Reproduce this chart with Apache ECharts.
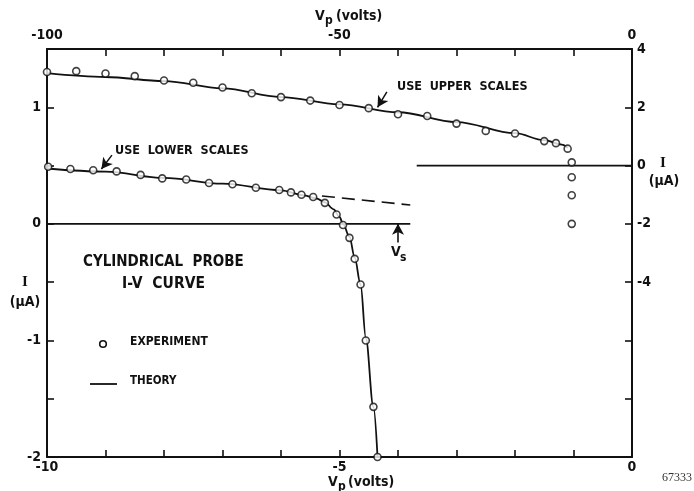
<!DOCTYPE html>
<html>
<head>
<meta charset="utf-8">
<script src="https://cdn.jsdelivr.net/npm/echarts@6/dist/echarts.min.js"></script>
<style>
  html, body { margin: 0; padding: 0; background: #fff; }
  #chart { width: 694px; height: 491px; }
</style>
</head>
<body>
<div id="chart"></div>
<script>
// Lower scales: probe voltage Vp (V, bottom axis) vs current I (µA, left axis)
const lowerExpV = [-9.98, -9.60, -9.21, -8.81, -8.40, -8.03, -7.62, -7.23, -6.83, -6.43, -6.03, -5.83,
                   -5.65, -5.45, -5.25, -5.05, -4.94, -4.83, -4.74, -4.64, -4.55, -4.42, -4.35];
const lowerExpI = [0.49, 0.47, 0.46, 0.45, 0.42, 0.39, 0.38, 0.35, 0.34, 0.31, 0.29, 0.27,
                   0.25, 0.23, 0.18, 0.08, -0.01, -0.12, -0.30, -0.52, -1.00, -1.57, -2.00];
const lowerTheoryV = [-10, -9, -8, -7, -6, -5.6, -5.4, -5.25, -5.1, -5.0, -4.94, -4.83, -4.74, -4.64, -4.55, -4.42, -4.35];
const lowerTheoryI = [0.475, 0.448, 0.394, 0.345, 0.288, 0.245, 0.218, 0.185, 0.125, 0.06, 0.0, -0.11, -0.29, -0.52, -0.98, -1.57, -2.0];
// dashed continuation of the ion-saturation branch
const lowerDashV = [-5.3, -3.79];
const lowerDashI = [0.239, 0.162];
const lowerZeroV = [-10, -3.79];
const plasmaPotential = -4.0;   // Vs

// Upper scales: Vp (V, top axis) vs I (µA, right axis)
const upperExpV = [-100, -95, -90, -85, -80, -75, -70, -65, -60, -55, -50, -45, -40, -35, -30, -25,
                   -20, -15, -13, -11, -10.3, -10.3, -10.3, -10.3];
const upperExpI = [3.21, 3.24, 3.16, 3.07, 2.92, 2.84, 2.68, 2.48, 2.35, 2.23, 2.08, 1.97, 1.76, 1.70,
                   1.44, 1.19, 1.10, 0.84, 0.77, 0.58, 0.11, -0.40, -1.02, -2.00];
const upperTheoryV = [-100, -90, -80, -70, -60, -50, -40, -30, -20, -15, -12, -11];
const upperTheoryI = [3.17, 3.04, 2.90, 2.65, 2.35, 2.10, 1.83, 1.49, 1.11, 0.87, 0.72, 0.61];
const upperZeroV = [-36.8, 0];

// Tick labels
const bottomTicks = [-10, -5, 0];
const topTicks = [-100, -50, 0];
const leftTicks = [-2, -1, 0, 1];
const rightTicks = [-4, -2, 0, 2, 4];

const pairs = (xs, ys) => xs.map((x, i) => [x, ys[i]]);
const INK = '#111111';
const FONT = 'DejaVu Sans Condensed';

const labelStyle = {
  color: INK, fontFamily: FONT, fontWeight: 'bold', fontSize: 14
};
const axisBase = {
  type: 'value',
  axisLine: { show: true, onZero: false, lineStyle: { color: INK, width: 2 } },
  axisTick: { show: true, inside: true, length: 7, lineStyle: { color: INK, width: 1.6 } },
  splitLine: { show: false },
  minorTick: { show: false }
};

const chart = echarts.init(document.getElementById('chart'), null, { renderer: 'canvas' });

const option = {
  backgroundColor: '#ffffff',
  animation: false,
  grid: { left: 47, top: 49, width: 585, height: 408, containLabel: false },
  xAxis: [
    Object.assign({}, axisBase, {
      position: 'bottom', min: -10, max: 0, interval: 1,
      axisLabel: Object.assign({}, labelStyle, {
        margin: 3,
        formatter: v => bottomTicks.includes(v) ? String(v) : ''
      })
    }),
    Object.assign({}, axisBase, {
      position: 'top', min: -100, max: 0, interval: 10,
      axisLabel: Object.assign({}, labelStyle, {
        margin: 7,
        formatter: v => topTicks.includes(v) ? String(v) : ''
      })
    })
  ],
  yAxis: [
    Object.assign({}, axisBase, {
      position: 'left', min: -2, max: 1.5, interval: 0.5,
      axisLabel: Object.assign({}, labelStyle, {
        margin: 6,
        formatter: v => leftTicks.includes(v) ? String(v) : ''
      })
    }),
    Object.assign({}, axisBase, {
      position: 'right', min: -10, max: 4, interval: 2,
      axisLabel: Object.assign({}, labelStyle, {
        margin: 5,
        formatter: v => rightTicks.includes(v) ? String(v) : ''
      })
    })
  ],
  series: [
    {
      name: 'Theory (lower)', type: 'line', xAxisIndex: 0, yAxisIndex: 0,
      data: pairs(lowerTheoryV, lowerTheoryI), smooth: 0.35, smoothMonotone: 'x',
      showSymbol: false, lineStyle: { color: INK, width: 1.8 }, z: 3,
      markLine: {
        silent: true, symbol: ['none', 'arrow'], symbolSize: [9, 11],
        lineStyle: { color: INK, width: 1.5, type: 'solid' }, label: { show: false },
        data: [[{ coord: [-8.89, 0.59] }, { coord: [-9.07, 0.47] }]]
      }
    },
    {
      name: 'Saturation extension', type: 'line', xAxisIndex: 0, yAxisIndex: 0,
      data: pairs(lowerDashV, lowerDashI), showSymbol: false,
      lineStyle: { color: INK, width: 1.6, type: [13, 7] }
    },
    {
      name: 'Zero (lower)', type: 'line', xAxisIndex: 0, yAxisIndex: 0,
      data: lowerZeroV.map(v => [v, 0]), showSymbol: false,
      lineStyle: { color: INK, width: 1.8 },
      markLine: {
        silent: true, symbol: ['none', 'arrow'], symbolSize: [9, 11],
        lineStyle: { color: INK, width: 1.6, type: 'solid' }, label: { show: false },
        data: [[{ coord: [plasmaPotential, -0.16] }, { coord: [plasmaPotential, 0.0] }]]
      }
    },
    {
      name: 'Experiment (lower)', type: 'scatter', xAxisIndex: 0, yAxisIndex: 0,
      data: pairs(lowerExpV, lowerExpI), symbol: 'circle', symbolSize: 7,
      itemStyle: { color: '#ffffff', borderColor: INK, borderWidth: 1.6 }, z: 5
    },
    {
      name: 'Theory (upper)', type: 'line', xAxisIndex: 1, yAxisIndex: 1,
      data: pairs(upperTheoryV, upperTheoryI), smooth: 0.35, smoothMonotone: 'x',
      showSymbol: false, lineStyle: { color: INK, width: 1.8 }, z: 3,
      markLine: {
        silent: true, symbol: ['none', 'arrow'], symbolSize: [9, 11],
        lineStyle: { color: INK, width: 1.5, type: 'solid' }, label: { show: false },
        data: [[{ coord: [-41.9, 2.53] }, { coord: [-43.5, 2.0] }]]
      }
    },
    {
      name: 'Zero (upper)', type: 'line', xAxisIndex: 1, yAxisIndex: 1,
      data: upperZeroV.map(v => [v, 0]), showSymbol: false,
      lineStyle: { color: INK, width: 1.8 }
    },
    {
      name: 'Experiment (upper)', type: 'scatter', xAxisIndex: 1, yAxisIndex: 1,
      data: pairs(upperExpV, upperExpI), symbol: 'circle', symbolSize: 7,
      itemStyle: { color: '#ffffff', borderColor: INK, borderWidth: 1.6 }, z: 5
    }
  ]
};

const txt = (x, y, text, extra) => ({
  type: 'text', x: x, y: y, silent: true,
  style: Object.assign({
    text: text, fill: INK, font: 'bold 14px "' + FONT + '"',
    textVerticalAlign: 'middle', textAlign: 'left'
  }, extra || {})
});

option.graphic = [
  // axis titles
  txt(315, 16, 'V', { font: 'bold 14px "' + FONT + '"' }),
  txt(325, 21, 'p', { font: 'bold 12px "' + FONT + '"' }),
  txt(336, 16, '(volts)', { font: 'bold 14px "' + FONT + '"' }),
  txt(328, 482, 'V', { font: 'bold 14px "' + FONT + '"' }),
  txt(338, 487, 'p', { font: 'bold 12px "' + FONT + '"' }),
  txt(348, 482, '(volts)', { font: 'bold 14px "' + FONT + '"' }),
  txt(25, 282, 'I', { textAlign: 'center', font: 'bold 15px "Liberation Serif"' }),
  txt(25, 302, '(μA)', { textAlign: 'center' }),
  txt(663, 163, 'I', { textAlign: 'center', font: 'bold 15px "Liberation Serif"' }),
  txt(664, 181, '(μA)', { textAlign: 'center' }),
  // annotations
  txt(397, 87, 'USE  UPPER  SCALES', { font: 'bold 12.5px "' + FONT + '"' }),
  txt(115, 151, 'USE  LOWER  SCALES', { font: 'bold 12.5px "' + FONT + '"' }),
  txt(83, 262, 'CYLINDRICAL  PROBE', { font: 'bold 15px "' + FONT + '"' }),
  txt(122, 284, 'I-V  CURVE', { font: 'bold 15.5px "' + FONT + '"' }),
  txt(391, 252, 'V', { font: 'bold 14px "' + FONT + '"' }),
  txt(400, 258, 's', { font: 'bold 12px "' + FONT + '"' }),
  // key
  {
    type: 'circle', silent: true, shape: { cx: 103, cy: 344, r: 3.3 },
    style: { fill: '#fff', stroke: INK, lineWidth: 1.6 }
  },
  txt(130, 342, 'EXPERIMENT', { font: 'bold 12px "' + FONT + '"' }),
  {
    type: 'line', silent: true, shape: { x1: 90, y1: 384, x2: 117, y2: 384 },
    style: { stroke: INK, lineWidth: 1.8 }
  },
  txt(130, 381, 'THEORY', { font: 'bold 11.5px "' + FONT + '"' }),
  // figure number
  txt(662, 478, '67333', { font: '12px "Liberation Serif"', fill: '#333' })
];

chart.setOption(option);
</script>
</body>
</html>
